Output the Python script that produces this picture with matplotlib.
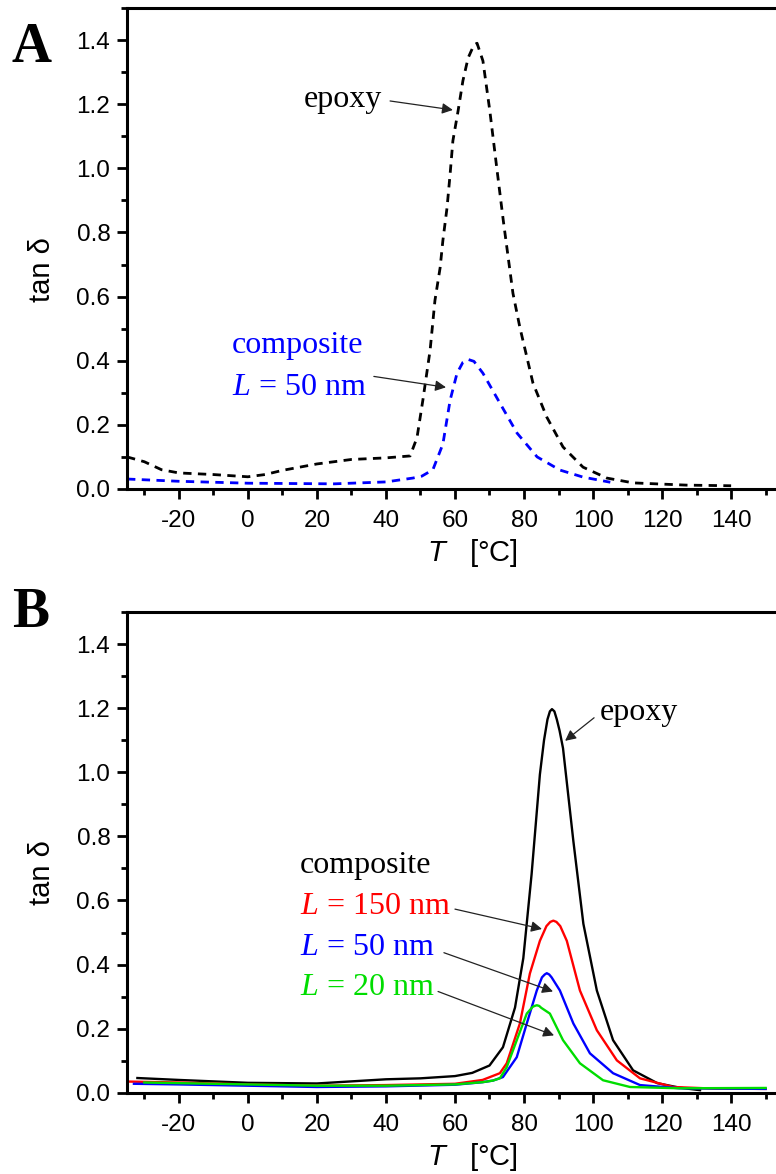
import matplotlib
matplotlib.use("Agg")
import matplotlib.pyplot as plt
from matplotlib.ticker import MultipleLocator

plt.rcParams["font.family"] = ["Liberation Sans", "DejaVu Sans"]
plt.rcParams["axes.unicode_minus"] = False
plt.rcParams["mathtext.fontset"] = "custom"
plt.rcParams["mathtext.rm"] = "Liberation Serif"
plt.rcParams["mathtext.it"] = "Liberation Serif:italic"
plt.rcParams["mathtext.sf"] = "Liberation Sans:italic"

# Panel A (dashed curves)
epoxy_a_T = [-35, -30, -25, -20, -10, 0, 5, 10, 15, 20, 30, 40, 47, 49, 50.7,
             52.8, 54.2, 55.7, 56.5, 57.7, 58.6, 59.4, 60.9, 62.3, 63.8, 65.5,
             66.4, 68.1, 70.1, 72.1, 74, 76.8, 78.8, 82.6, 86.6, 91.3, 97.1,
             104, 111.6, 127, 140]
epoxy_a_tan = [0.10, 0.085, 0.06, 0.05, 0.045, 0.038, 0.045, 0.058, 0.068,
               0.078, 0.092, 0.097, 0.103, 0.16, 0.277, 0.433, 0.588, 0.69,
               0.775, 0.877, 0.983, 1.086, 1.179, 1.273, 1.344, 1.385, 1.39,
               1.335, 1.179, 1.002, 0.837, 0.61, 0.504, 0.33, 0.224, 0.131,
               0.068, 0.034, 0.019, 0.012, 0.010]
comp50_a_T = [-35, -20, 0, 25, 40, 47.8, 50.4, 53.6, 56.5, 58.6, 60.6, 62.3,
              63.8, 65.5, 68.1, 73, 78, 83.8, 90.4, 97.1, 105]
comp50_a_tan = [0.031, 0.024, 0.018, 0.016, 0.022, 0.034, 0.04, 0.06, 0.14,
                0.277, 0.361, 0.395, 0.404, 0.398, 0.361, 0.268, 0.174, 0.10,
                0.059, 0.037, 0.021]

# Panel B (solid curves)
epoxy_b_T = [-32, -20, 0, 20, 40, 50, 60, 65, 70, 73.9, 77.4, 79.8, 82.2,
             84.6, 85.8, 86.8, 87.5, 88.1, 88.8, 89.5, 90.3, 91.3, 94.3, 97.2,
             101.1, 105.8, 111.6, 118.6, 125, 131]
epoxy_b_tan = [0.046, 0.040, 0.031, 0.029, 0.042, 0.045, 0.052, 0.062, 0.085,
               0.142, 0.266, 0.42, 0.682, 0.993, 1.10, 1.165, 1.19, 1.197,
               1.19, 1.165, 1.13, 1.075, 0.785, 0.527, 0.319, 0.164, 0.07,
               0.03, 0.016, 0.008]
l150_T = [-35, -20, 0, 20, 40, 60, 68, 73, 75, 78.8, 81.7, 84.6, 86.5, 87.6,
          88.5, 89.4, 90.5, 92.4, 96.2, 101.1, 106.9, 113.6, 123.2, 135, 150]
l150_tan = [0.035, 0.032, 0.026, 0.022, 0.024, 0.028, 0.04, 0.061, 0.092,
            0.216, 0.372, 0.474, 0.52, 0.533, 0.537, 0.533, 0.52, 0.474,
            0.319, 0.195, 0.101, 0.045, 0.018, 0.013, 0.012]
l50_T = [-33, -20, 0, 20, 40, 60, 68, 71, 73.9, 77.9, 80.8, 83.7, 85.2, 86,
         86.6, 87.3, 88, 90.4, 94.3, 99.1, 105.8, 113.6, 125, 150]
l50_tan = [0.028, 0.026, 0.022, 0.018, 0.02, 0.025, 0.033, 0.038, 0.049,
           0.111, 0.216, 0.319, 0.36, 0.369, 0.373, 0.369, 0.36, 0.319,
           0.216, 0.123, 0.061, 0.024, 0.014, 0.012]
l20_T = [-30, -20, 0, 20, 40, 60, 68, 71, 73, 75, 77.9, 80.8, 82.5, 83.1,
         83.7, 84.4, 85, 87.5, 91.3, 96.2, 102.9, 110.7, 125, 150]
l20_tan = [0.032, 0.03, 0.026, 0.022, 0.022, 0.026, 0.033, 0.038, 0.045,
           0.08, 0.164, 0.247, 0.268, 0.271, 0.273, 0.271, 0.265, 0.247,
           0.164, 0.092, 0.039, 0.018, 0.014, 0.015]

BLUE = "#0000ff"
RED = "#ff0000"
GREEN = "#00dd00"

fig = plt.figure(figsize=(7.76, 11.74), dpi=100)
ax_a = fig.add_axes([0.1637, 0.5835, 0.8363, 0.4097])
ax_b = fig.add_axes([0.1637, 0.0692, 0.8363, 0.4095])


def style_axes(ax):
    ax.set_xlim(-35, 153)
    ax.set_ylim(0, 1.5)
    ax.spines["right"].set_visible(False)
    for s in ("left", "bottom", "top"):
        ax.spines[s].set_linewidth(2.2)
    ax.xaxis.set_minor_locator(MultipleLocator(10))
    ax.yaxis.set_minor_locator(MultipleLocator(0.1))
    ax.set_xticks([-20, 0, 20, 40, 60, 80, 100, 120, 140])
    ax.set_yticks([0.0, 0.2, 0.4, 0.6, 0.8, 1.0, 1.2, 1.4])
    ax.set_yticklabels(["0.0", "0.2", "0.4", "0.6", "0.8", "1.0", "1.2", "1.4"])
    ax.tick_params(which="major", direction="out", length=7, width=2,
                   labelsize=17.5, top=False, right=False)
    ax.tick_params(axis="x", which="major", pad=8)
    ax.tick_params(axis="y", which="major", pad=5)
    ax.tick_params(which="minor", direction="out", length=4.5, width=2,
                   top=False, right=False)
    ax.set_xlabel(r"$\mathsf{T}$   [°C]", fontsize=21)
    ax.xaxis.set_label_coords(0.532, -0.10)
    ax.set_ylabel("tan δ", fontsize=21)
    ax.yaxis.set_label_coords(-0.11, 0.457)


style_axes(ax_a)
style_axes(ax_b)

dash = (0, (3, 2.3))
ax_a.plot(epoxy_a_T, epoxy_a_tan, color="black", lw=2.0, linestyle=dash)
ax_a.plot(comp50_a_T, comp50_a_tan, color=BLUE, lw=2.0, linestyle=dash)

arrow = dict(arrowstyle="-|>", color="#222222", lw=0.9, mutation_scale=16,
             shrinkA=0, shrinkB=0)
serif = "Liberation Serif"

ax_a.text(38.8, 1.19, "epoxy", fontsize=23, family=serif, ha="right",
          va="baseline")
ax_a.annotate("", xy=(59.4, 1.182), xytext=(41.2, 1.21), arrowprops=arrow)
ax_a.text(-4.6, 0.423, "composite", fontsize=23, family=serif, color=BLUE,
          va="baseline")
ax_a.text(-4.6, 0.292, "$L$ = 50 nm", fontsize=23, family=serif, color=BLUE,
          va="baseline")
ax_a.annotate("", xy=(57.4, 0.317), xytext=(36.5, 0.351), arrowprops=arrow)

ax_b.plot(epoxy_b_T, epoxy_b_tan, color="black", lw=1.7)
ax_b.plot(l150_T, l150_tan, color=RED, lw=1.7)
ax_b.plot(l50_T, l50_tan, color=BLUE, lw=1.7)
ax_b.plot(l20_T, l20_tan, color=GREEN, lw=1.7)

ax_b.text(102, 1.164, "epoxy", fontsize=23, family=serif, va="baseline")
ax_b.annotate("", xy=(91.9, 1.098), xytext=(100.3, 1.17), arrowprops=arrow)
ax_b.text(15.1, 0.686, "composite", fontsize=23, family=serif, va="baseline")
ax_b.text(15.1, 0.558, "$L$ = 150 nm", fontsize=23, family=serif, color=RED,
          va="baseline")
ax_b.text(15.1, 0.431, "$L$ = 50 nm", fontsize=23, family=serif, color=BLUE,
          va="baseline")
ax_b.text(15.1, 0.306, "$L$ = 20 nm", fontsize=23, family=serif, color=GREEN,
          va="baseline")
ax_b.annotate("", xy=(85.2, 0.511), xytext=(60, 0.573), arrowprops=arrow)
ax_b.annotate("", xy=(88.4, 0.316), xytext=(56.8, 0.437), arrowprops=arrow)
ax_b.annotate("", xy=(88.7, 0.179), xytext=(55.1, 0.316), arrowprops=arrow)

fig.text(12 / 776, 1 - 62 / 1174, "A", fontsize=40, family=serif,
         weight="bold", va="baseline")
fig.text(12 / 776, 1 - 627 / 1174, "B", fontsize=40, family=serif,
         weight="bold", va="baseline")

fig.savefig("out.png", dpi=100)
